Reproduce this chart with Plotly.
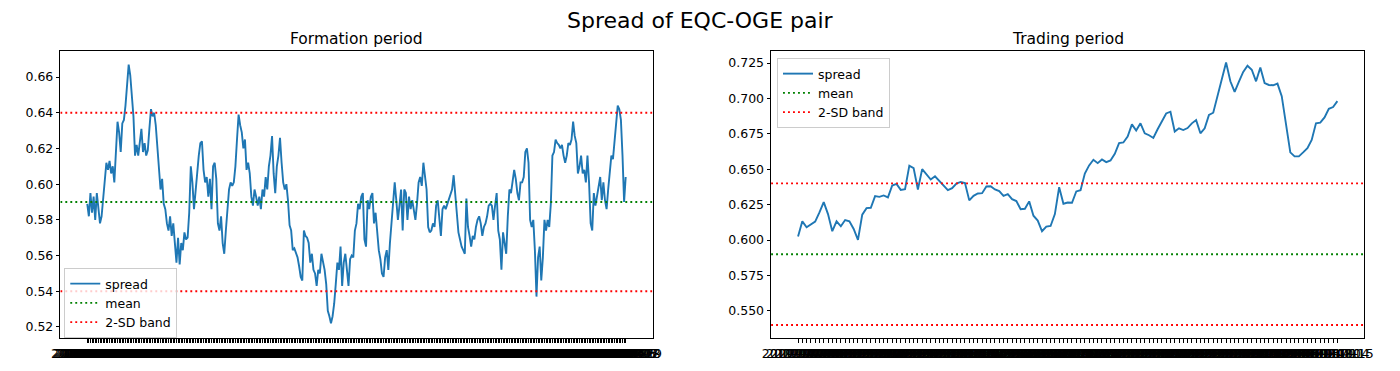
import pandas as pd
import plotly.graph_objects as go

# ---------------- data ----------------
formation_spread = [
    0.589, 0.582, 0.595, 0.584, 0.593, 0.580, 0.595, 0.586, 0.578, 0.582,
    0.593, 0.603, 0.612, 0.608, 0.613, 0.606, 0.610, 0.601, 0.620, 0.635,
    0.629, 0.618, 0.634, 0.636, 0.644, 0.655, 0.667, 0.661, 0.649, 0.638,
    0.616, 0.622, 0.616, 0.623, 0.631, 0.618, 0.623, 0.616, 0.619, 0.631,
    0.642, 0.638, 0.640, 0.633, 0.620, 0.610, 0.597, 0.603, 0.589, 0.586,
    0.578, 0.574, 0.582, 0.571, 0.578, 0.567, 0.556, 0.570, 0.555, 0.567,
    0.563, 0.573, 0.569, 0.570, 0.584, 0.610, 0.601, 0.586, 0.597, 0.603,
    0.616, 0.623, 0.624, 0.608, 0.601, 0.604, 0.593, 0.603, 0.586, 0.610,
    0.612, 0.603, 0.578, 0.574, 0.582, 0.567, 0.561, 0.574, 0.588, 0.597,
    0.601, 0.599, 0.601, 0.610, 0.625, 0.639, 0.633, 0.629, 0.620, 0.625,
    0.608, 0.612, 0.606, 0.593, 0.588, 0.597, 0.593, 0.588, 0.593, 0.586,
    0.597, 0.593, 0.604, 0.597, 0.610,
    0.616, 0.627, 0.606, 0.595, 0.610, 0.616, 0.626, 0.612, 0.601, 0.597,
    0.600, 0.591, 0.577, 0.574, 0.563, 0.564, 0.561, 0.559, 0.554, 0.548,
    0.546, 0.574, 0.571, 0.570, 0.567, 0.556, 0.561, 0.552, 0.550, 0.543,
    0.552, 0.550, 0.561, 0.556, 0.552, 0.544, 0.529, 0.526, 0.522, 0.526,
    0.533, 0.544, 0.556, 0.552, 0.565, 0.543, 0.556, 0.561, 0.552, 0.543,
    0.558, 0.560, 0.559, 0.574, 0.578, 0.589, 0.586, 0.593, 0.595, 0.569,
    0.565, 0.591, 0.586, 0.593, 0.595, 0.578, 0.584, 0.574, 0.563, 0.558,
    0.550, 0.548, 0.559, 0.563, 0.552, 0.567, 0.578, 0.589, 0.601, 0.591,
    0.580, 0.588, 0.597, 0.574, 0.597, 0.595, 0.580, 0.593, 0.586, 0.591,
    0.584, 0.580, 0.589, 0.601, 0.604, 0.599, 0.612, 0.604, 0.597, 0.576,
    0.573, 0.574, 0.578, 0.576, 0.588, 0.591, 0.578, 0.571, 0.586, 0.588,
    0.586, 0.589, 0.591, 0.595,
    0.597, 0.605, 0.593, 0.584, 0.573, 0.569, 0.565, 0.563, 0.561, 0.592,
    0.576, 0.571, 0.565, 0.571, 0.569, 0.576, 0.580, 0.582, 0.578, 0.571,
    0.576, 0.578, 0.582, 0.588, 0.589, 0.588, 0.580, 0.588, 0.595, 0.574,
    0.569, 0.552, 0.573, 0.567, 0.561, 0.582, 0.597, 0.595, 0.601, 0.608,
    0.603, 0.595, 0.591, 0.601, 0.601, 0.604, 0.618, 0.620, 0.612, 0.580,
    0.576, 0.580, 0.563, 0.537, 0.559, 0.565, 0.546, 0.559, 0.580, 0.574,
    0.580, 0.576, 0.589, 0.616, 0.618, 0.625, 0.623, 0.622, 0.620, 0.622,
    0.616, 0.612, 0.616, 0.623, 0.622, 0.625, 0.635, 0.627, 0.623, 0.606,
    0.610, 0.616, 0.606, 0.608, 0.601, 0.616, 0.601, 0.578, 0.574, 0.595,
    0.588, 0.593, 0.599, 0.604, 0.591, 0.601, 0.591, 0.586, 0.597, 0.608,
    0.616, 0.614, 0.625, 0.633, 0.644, 0.642, 0.636, 0.616, 0.590, 0.604,
]

trading_spread = [
    0.6025, 0.6132, 0.6090, 0.6113, 0.6130, 0.6195, 0.6268, 0.6183, 0.6062, 0.6132,
    0.6097, 0.6141, 0.6132, 0.6078, 0.6001, 0.6179, 0.6225, 0.6228, 0.6310, 0.6305,
    0.6315, 0.6301, 0.6385, 0.6396, 0.6354, 0.6359, 0.6525, 0.6508, 0.6357, 0.6501,
    0.6464, 0.6427, 0.6450, 0.6415, 0.6382, 0.6352, 0.6366, 0.6399, 0.6410, 0.6403,
    0.6280, 0.6312, 0.6329, 0.6331, 0.6378, 0.6380, 0.6357, 0.6345, 0.6312, 0.6324,
    0.6289, 0.6275, 0.6218, 0.6221, 0.6273, 0.6172, 0.6137, 0.6062, 0.6095, 0.6099,
    0.6183, 0.6373, 0.6256, 0.6265, 0.6263, 0.6343, 0.6352, 0.6469, 0.6527, 0.6567,
    0.6543, 0.6569, 0.6550, 0.6562, 0.6609, 0.6684, 0.6689, 0.6731, 0.6817, 0.6773,
    0.6824, 0.6754, 0.6740, 0.6721, 0.6782, 0.6836, 0.6894, 0.6906, 0.6766, 0.6789,
    0.6777, 0.6791, 0.6824, 0.6847, 0.6754, 0.6789, 0.6883, 0.6899, 0.7016, 0.7144,
    0.7254, 0.7121, 0.7046, 0.7119, 0.7187, 0.7231, 0.7203, 0.7121, 0.7219, 0.7109,
    0.7095, 0.7093, 0.7105, 0.7016, 0.6812, 0.6619, 0.6591, 0.6591, 0.6619, 0.6649,
    0.6707, 0.6824, 0.6829, 0.6866, 0.6927, 0.6939, 0.6981,
]

spread_mean = 0.59
band_upper = 0.64
band_lower = 0.54

formation_dates = pd.bdate_range(start="2018-01-02", periods=len(formation_spread)).strftime("%Y-%m-%d").tolist()
trading_dates = pd.bdate_range(start=pd.Timestamp(formation_dates[-1]) + pd.Timedelta(days=1),
                               periods=len(trading_spread)).strftime("%Y-%m-%d").tolist()

left_yticks = [0.52, 0.54, 0.56, 0.58, 0.60, 0.62, 0.64, 0.66]
right_yticks = [0.550, 0.575, 0.600, 0.625, 0.650, 0.675, 0.700, 0.725]

# ---------------- styles ----------------
FONT = "DejaVu Sans"
BLUE = "#1f77b4"
GREEN = "#008000"
RED = "#ff0000"
DOT = "1.9px,3.1px"
LW = 1.9
W, H = 1400, 371

fig = go.Figure()


def add_panel(values, xa, ya, legend_name):
    n = len(values)
    idx = list(range(n))
    xr = [-0.05 * (n - 1), 1.05 * (n - 1)]
    fig.add_trace(go.Scatter(x=idx, y=values, mode="lines", name="spread",
                             line=dict(color=BLUE, width=LW),
                             xaxis=xa, yaxis=ya, legend=legend_name, hoverinfo="skip"))
    fig.add_trace(go.Scatter(x=xr, y=[spread_mean] * 2, mode="lines", name="mean",
                             line=dict(color=GREEN, width=LW, dash=DOT),
                             xaxis=xa, yaxis=ya, legend=legend_name, hoverinfo="skip"))
    fig.add_trace(go.Scatter(x=xr, y=[band_upper] * 2, mode="lines", name="2-SD band",
                             line=dict(color=RED, width=LW, dash=DOT),
                             xaxis=xa, yaxis=ya, legend=legend_name, hoverinfo="skip"))
    fig.add_trace(go.Scatter(x=xr, y=[band_lower] * 2, mode="lines", name="2-SD band",
                             line=dict(color=RED, width=LW, dash=DOT), showlegend=False,
                             xaxis=xa, yaxis=ya, legend=legend_name, hoverinfo="skip"))
    return xr, idx


xr1, idx1 = add_panel(formation_spread, "x", "y", "legend")
xr2, idx2 = add_panel(trading_spread, "x2", "y2", "legend2")

axis_common = dict(showline=True, linecolor="black", linewidth=1, mirror=True,
                   ticks="outside", ticklen=3.5, tickwidth=1, tickcolor="black",
                   showgrid=False, zeroline=False,
                   tickfont=dict(family=FONT, size=12.5, color="black"))

ydom = [1 - 338 / H, 1 - 51 / H]

legend_common = dict(xanchor="left", yanchor="top",
                     bgcolor="rgba(255,255,255,0.8)", bordercolor="#cccccc", borderwidth=1,
                     font=dict(family=FONT, size=12.5, color="black"), tracegroupgap=0)

fig.update_layout(
    width=W, height=H,
    margin=dict(l=0, r=0, t=0, b=0),
    paper_bgcolor="white", plot_bgcolor="white",
    font=dict(family=FONT, color="black"),
    xaxis=dict(domain=[52 / W, 652 / W], range=xr1, tickmode="array",
               tickvals=idx1, ticktext=formation_dates, tickangle=0, anchor="y", **axis_common),
    yaxis=dict(domain=ydom, range=[0.5138, 0.6746], tickmode="array",
               tickvals=left_yticks, ticktext=[f"{v:.2f}" for v in left_yticks],
               anchor="x", **axis_common),
    xaxis2=dict(domain=[772 / W, 1373 / W], range=xr2, tickmode="array",
                tickvals=idx2, ticktext=trading_dates, tickangle=0, anchor="y2", **axis_common),
    yaxis2=dict(domain=ydom, range=[0.5308, 0.7335], tickmode="array",
                tickvals=right_yticks, ticktext=[f"{v:.3f}" for v in right_yticks],
                anchor="x2", **axis_common),
    legend=dict(x=56 / W, y=1 - 268 / H, **legend_common),
    legend2=dict(x=778 / W, y=1 - 58 / H, **legend_common),
    showlegend=True,
    annotations=[
        dict(text="Spread of EQC-OGE pair", x=0.5, y=1 - 21 / H, xref="paper", yref="paper",
             xanchor="center", yanchor="middle", showarrow=False,
             font=dict(family=FONT, size=22, color="black")),
        dict(text="Formation period", x=352 / W, y=1 - 39 / H, xref="paper", yref="paper",
             xanchor="center", yanchor="middle", showarrow=False,
             font=dict(family=FONT, size=15.5, color="black")),
        dict(text="Trading period", x=1072.5 / W, y=1 - 39 / H, xref="paper", yref="paper",
             xanchor="center", yanchor="middle", showarrow=False,
             font=dict(family=FONT, size=15.5, color="black")),
    ],
)

fig.write_html("out.html", config={"displayModeBar": False},
               post_script="document.body.style.margin='0';")
